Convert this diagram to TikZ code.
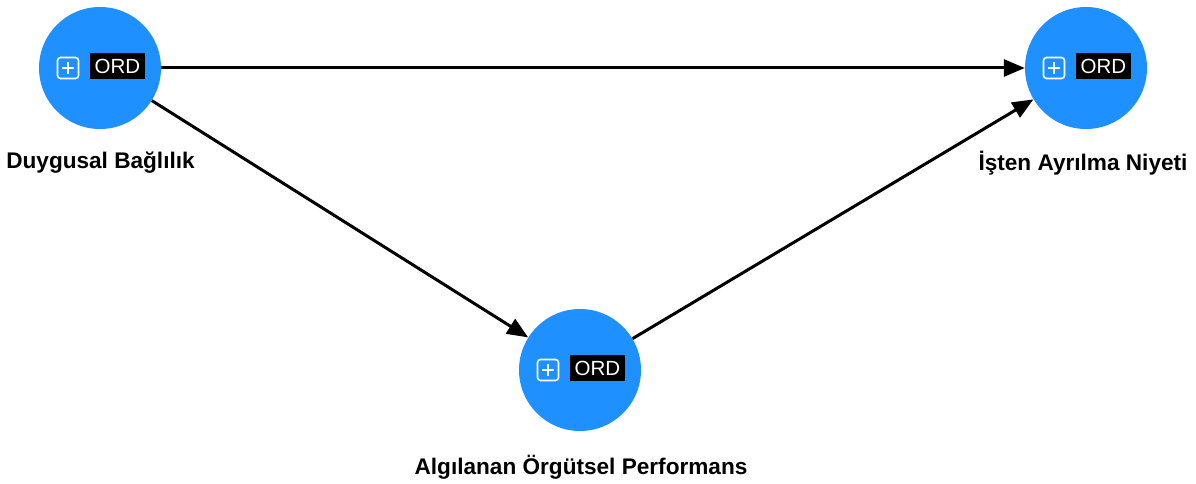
\documentclass[tikz,border=0pt]{standalone}
\usepackage{fontspec}
\setmainfont{Liberation Sans}
\usetikzlibrary{arrows.meta,calc}
\definecolor{lvblue}{HTML}{1E90FF}
\tikzset{
  latent/.style={circle, fill=lvblue, minimum size=122pt, inner sep=0pt},
  lvlabel/.style={font=\fontsize{22.6}{26}\selectfont\bfseries, inner sep=0pt},
  ordtag/.style={fill=black, text=white, minimum width=55pt, minimum height=26pt,
    inner sep=0pt, font=\fontsize{20.5}{22}\selectfont},
  path/.style={line width=3pt, -{Triangle[length=21pt,width=17pt]}},
}
% expand icon drawn at a given centre
\newcommand{\expandicon}[1]{%
  \draw[white, line width=1.6pt, rounded corners=3pt] ($(#1)+(-10.5,-10.5)$) rectangle ($(#1)+(10.5,10.5)$);
  \draw[white, line width=1.6pt] ($(#1)+(-6,0)$) -- ($(#1)+(6,0)$) ($(#1)+(0,-6)$) -- ($(#1)+(0,6)$);
}
\begin{document}
\begin{tikzpicture}[x=1pt, y=-1pt]
  \useasboundingbox (0,0) rectangle (1196,484);
  \fill[white] (0,0) rectangle (1196,484);

  % latent variables
  \node[latent] (db) at (100,68) {};
  \node[latent] (ian) at (1086,68) {};
  \node[latent] (aop) at (580,370) {};

  % construct names
  \node[lvlabel] (dbl) at (100.5,163) {Duygusal Bağlılık};
  \node[lvlabel] (ianl) at (1083,163) {İşten Ayrılma Niyeti};
  \node[lvlabel] (aopl) at (581,467) {Algılanan Örgütsel Performans};

  % mode tags and expand icons
  \foreach \n in {db, ian, aop} {
    \node[ordtag] (\n-ord) at ($(\n)+(17.5,-2)$) {ORD};
    \coordinate (\n-ico) at ($(\n)+(-32,0)$);
    \expandicon{\n-ico}
  }

  % structural paths
  \draw[path] (db) -- (ian);
  \draw[path] (db) -- (aop);
  \draw[path] (aop) -- (ian);
\end{tikzpicture}
\end{document}
